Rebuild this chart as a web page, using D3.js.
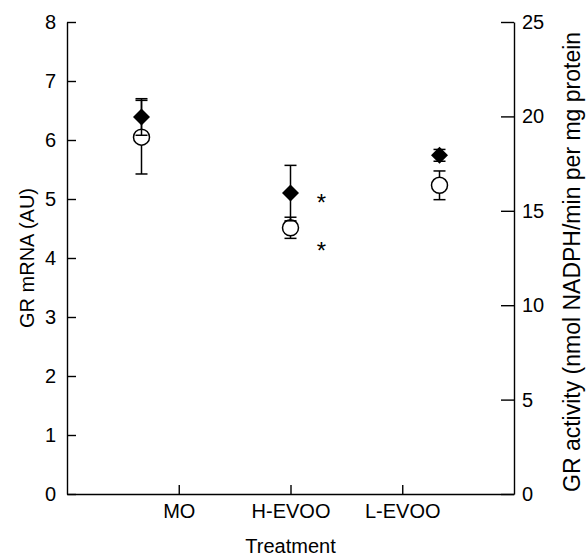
<!DOCTYPE html>
<html lang="en">
  <head>
    <meta charset="utf-8" />
    <title>GR mRNA and activity</title>
    <style>
      body { margin: 0; background: #fff; }
      svg text { font-family: "Liberation Sans", Arial, sans-serif; fill: #000; }
    </style>
  </head>
  <body>
    <svg id="viz"></svg>
    <script src="https://cdnjs.cloudflare.com/ajax/libs/d3/7.8.5/d3.min.js"></script>
    <script>
        // data
        var treatments = ["MO", "H-EVOO", "L-EVOO"];
        var mrnaMean = [6.39, 5.1, 5.74];      // filled diamonds, left axis
        var mrnaErr = [0.31, 0.47, 0.1];
        var activityMean = [18.9, 14.1, 16.35]; // open circles, right axis
        var activityErr = [1.95, 0.56, 0.76];
        var leftTicks = [0, 1, 2, 3, 4, 5, 6, 7, 8];
        var rightTicks = [0, 5, 10, 15, 20, 25];
        // significance marks next to H-EVOO (left axis units)
        var stars = [{cat: "H-EVOO", v: 5.03}, {cat: "H-EVOO", v: 4.21}];

        var width = 588, height = 556;
        var plotLeft = 67, plotRight = 514, plotTop = 22, plotBottom = 494;

        var svg = d3.select("#viz")
            .attr("width", width)
            .attr("height", height);

        var yLeft = d3.scaleLinear().domain([0, 8]).range([plotBottom, plotTop]);
        var yRight = d3.scaleLinear().domain([0, 25]).range([plotBottom, plotTop]);
        // ticks sit at quarter positions, points at the band centres
        var xTick = d3.scalePoint().domain(treatments).range([plotLeft, plotRight]).padding(1);
        var xPt = d3.scalePoint().domain(treatments).range([plotLeft, plotRight]).padding(0.5);

        var axisStyle = function(g) {
            g.selectAll("path, line").attr("stroke", "#000").attr("stroke-width", 1.4);
            g.selectAll("text").attr("font-size", 20).attr("font-family", null);
        };

        svg.append("g")
            .attr("transform", "translate(" + plotLeft + ",0)")
            .call(d3.axisLeft(yLeft).tickValues(leftTicks).tickSizeInner(-9).tickSizeOuter(0).tickPadding(11))
            .call(axisStyle);

        svg.append("g")
            .attr("transform", "translate(" + plotRight + ",0)")
            .call(d3.axisRight(yRight).tickValues(rightTicks).tickSizeInner(-13).tickSizeOuter(0).tickPadding(8))
            .call(axisStyle);

        svg.append("g")
            .attr("transform", "translate(0," + plotBottom + ")")
            .call(d3.axisBottom(xTick).tickSizeInner(-9).tickSizeOuter(0).tickPadding(10))
            .call(axisStyle);

        // axis titles
        svg.append("text")
            .attr("transform", "translate(34," + (plotTop + plotBottom) / 2 + ") rotate(-90)")
            .attr("text-anchor", "middle")
            .attr("font-size", 20)
            .text("GR mRNA (AU)");

        // the reference cuts this one off at the top edge
        svg.append("text")
            .attr("transform", "translate(580,492) rotate(-90)")
            .attr("text-anchor", "start")
            .attr("font-size", 23)
            .text("GR activity (nmol NADPH/min per mg protein");

        svg.append("text")
            .attr("x", (plotLeft + plotRight) / 2)
            .attr("y", 553)
            .attr("text-anchor", "middle")
            .attr("font-size", 20)
            .text("Treatment");

        var cap = 6;
        function errorBars(g, means, errs, y) {
            g.selectAll("g")
                .data(treatments)
                .enter()
                .append("g")
                .each(function(d, i) {
                    var sel = d3.select(this);
                    var x = xPt(d);
                    var y0 = y(means[i] - errs[i]), y1 = y(means[i] + errs[i]);
                    sel.append("line").attr("x1", x).attr("x2", x).attr("y1", y0).attr("y2", y1);
                    sel.append("line").attr("x1", x - cap).attr("x2", x + cap).attr("y1", y0).attr("y2", y0);
                    sel.append("line").attr("x1", x - cap).attr("x2", x + cap).attr("y1", y1).attr("y2", y1);
                });
            g.selectAll("line").attr("stroke", "#000").attr("stroke-width", 1.5);
        }

        // circles first so the diamond bars draw over them
        errorBars(svg.append("g"), activityMean, activityErr, yRight);

        svg.append("g")
            .selectAll("circle")
            .data(treatments)
            .enter()
            .append("circle")
            .attr("cx", function(d) { return xPt(d); })
            .attr("cy", function(d, i) { return yRight(activityMean[i]); })
            .attr("r", 8)
            .attr("fill", "#fff")
            .attr("stroke", "#000")
            .attr("stroke-width", 1.5);

        errorBars(svg.append("g"), mrnaMean, mrnaErr, yLeft);

        svg.append("g")
            .selectAll("path")
            .data(treatments)
            .enter()
            .append("path")
            .attr("d", function(d, i) {
                var x = xPt(d), y = yLeft(mrnaMean[i]);
                return "M" + x + "," + (y - 8.5) + "L" + (x + 8.5) + "," + y +
                    "L" + x + "," + (y + 8.5) + "L" + (x - 8.5) + "," + y + "Z";
            })
            .attr("fill", "#000");

        svg.append("g")
            .selectAll("text")
            .data(stars)
            .enter()
            .append("text")
            .attr("x", function(d) { return xPt(d.cat) + 31; })
            .attr("y", function(d) { return yLeft(d.v) + 13.5; })
            .attr("text-anchor", "middle")
            .attr("font-size", 24)
            .text("*");
    </script>
